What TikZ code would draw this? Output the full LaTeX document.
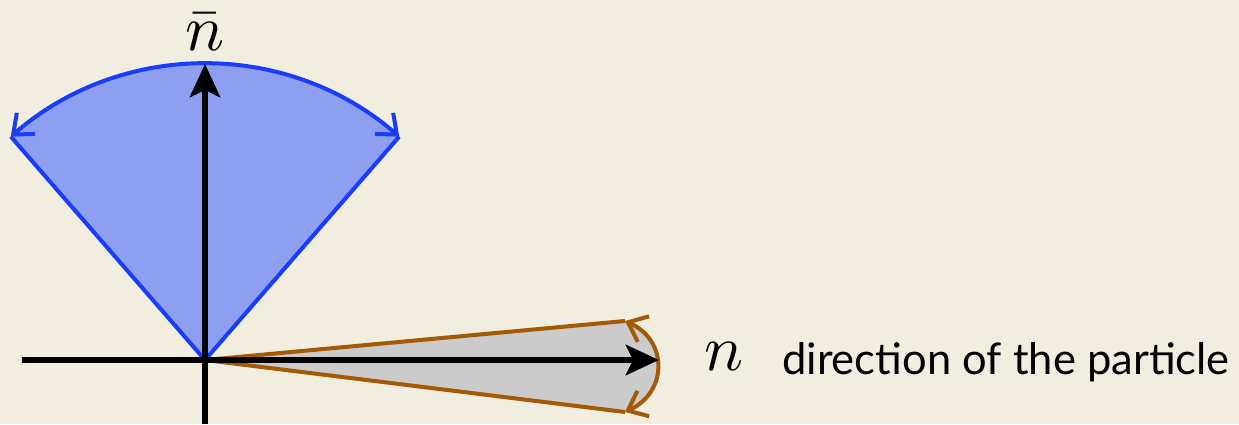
\documentclass[tikz,border=0pt]{standalone}
\usepackage{fontspec}
\newfontfamily\labelfont{Lato}
\usetikzlibrary{arrows.meta,calc}
\definecolor{bg}{HTML}{F1EEE0}
\definecolor{bluefill}{HTML}{8E9EF0}
\definecolor{blueline}{HTML}{1A3CFF}
\definecolor{grayfill}{HTML}{CBCBCB}
\definecolor{brownline}{HTML}{A45A04}
\tikzset{
  axis/.style={line width=6.5pt, draw=black, -{Stealth[length=33pt,width=30pt,inset=7pt]}},
  bluecone/.style={line width=4pt, draw=blueline, line join=round},
  browncone/.style={line width=4pt, draw=brownline, line join=round},
  openhead/.style={{Straight Barb[length=17pt,width=28pt,line width=4pt]}-{Straight Barb[length=17pt,width=28pt,line width=4pt]}},
  mathlabel/.style={scale=6.5, inner sep=0pt},
  textlabel/.style={font=\fontsize{43.5pt}{48pt}\selectfont\labelfont, inner sep=0pt, anchor=west}
}
\begin{document}
\begin{tikzpicture}[x=1pt,y=1pt]
\fill[bg] (0,0) rectangle (1239,424);
\useasboundingbox (0,0) rectangle (1239,424);
\coordinate (O) at (205,64);
\coordinate (BL) at ($(O)+(131:296)$);
\coordinate (BR) at ($(O)+(49:296)$);
% blue cone
\fill[bluefill] (O) -- (BL) arc[start angle=131,end angle=49,radius=296] -- cycle;
\draw[bluecone] (O) -- (BL);
\draw[bluecone] (O) -- (BR);
\draw[bluecone,openhead] (BL) arc[start angle=131,end angle=49,radius=296];
% brown cone
\coordinate (BT) at (625,103);
\coordinate (BB) at (625,12);
\fill[grayfill] (O) -- (BT) .. controls (668,84) and (668,32) .. (BB) -- cycle;
\draw[browncone] (O) -- (BT);
\draw[browncone] (O) -- (BB);
\draw[browncone,openhead] (BT) .. controls (668,84) and (668,32) .. (BB);
% axes
\coordinate (HL) at (22,64);
\coordinate (HR) at (659,64);
\coordinate (VB) at (205,0);
\coordinate (VT) at (205,360);
\draw[axis] (HL) -- (HR);
\draw[axis] (VB) -- (VT);
% labels
\node[mathlabel] (nbar) at (205,392) {$\bar n$};
\node[mathlabel] (n) at (724,67) {$n$};
\node[textlabel] (dir) at (782,62) {direction of the particle};
\end{tikzpicture}
\end{document}
